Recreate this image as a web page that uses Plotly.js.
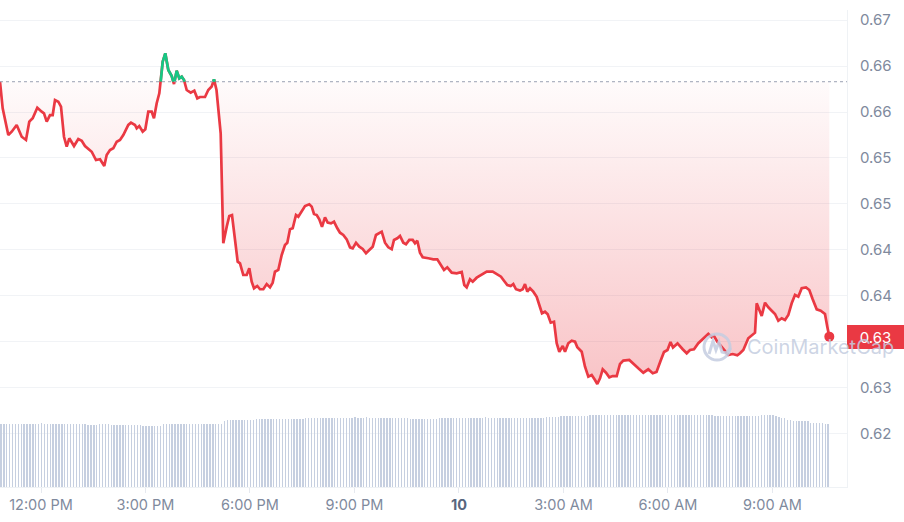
<!DOCTYPE html>
<html><head><meta charset="utf-8">
<script src="https://cdn.plot.ly/plotly-3.0.1.min.js"></script>
<style>html,body{margin:0;padding:0;background:#fff}#chart{width:904px;height:522px}</style>
</head><body><div id="chart"></div>
<script>
// time in hours since midnight of day 9 (24 = midnight, day "10")
const hours = [10.823,10.900,11.061,11.159,11.302,11.446,11.569,11.664,11.762,11.894,
12.020,12.086,12.164,12.258,12.336,12.402,12.497,12.574,12.660,12.738,
12.813,12.948,13.071,13.169,13.263,13.456,13.579,13.694,13.817,13.886,
13.981,14.076,14.174,14.268,14.363,14.507,14.584,14.699,14.748,14.822,
14.920,14.995,15.081,15.178,15.244,15.322,15.397,15.437,15.494,15.569,
15.655,15.753,15.819,15.896,15.971,16.040,16.106,16.183,16.298,16.402,
16.488,16.565,16.709,16.803,16.901,16.967,17.039,17.159,17.234,17.332,
17.406,17.484,17.570,17.647,17.714,17.808,17.906,17.981,18.049,18.116,
18.210,18.288,18.383,18.480,18.575,18.652,18.718,18.813,18.911,19.005,
19.072,19.149,19.227,19.321,19.387,19.485,19.580,19.703,19.772,19.838,
19.916,19.990,20.068,20.154,20.231,20.326,20.412,20.507,20.585,20.679,
20.777,20.872,20.949,21.044,21.139,21.236,21.331,21.426,21.524,21.618,
21.713,21.782,21.877,21.971,22.069,22.135,22.230,22.307,22.402,22.480,
22.574,22.672,22.738,22.804,22.881,22.959,23.120,23.263,23.378,23.456,
23.571,23.665,23.792,23.935,24.079,24.153,24.222,24.317,24.395,24.509,
24.653,24.797,24.969,25.084,25.207,25.293,25.388,25.486,25.560,25.638,
25.753,25.830,25.896,25.962,26.040,26.134,26.232,26.307,26.384,26.470,
26.548,26.634,26.729,26.806,26.881,26.979,27.045,27.139,27.237,27.332,
27.398,27.524,27.619,27.714,27.811,27.906,27.972,28.050,28.127,28.222,
28.317,28.414,28.529,28.624,28.719,28.891,29.006,29.149,29.293,29.436,
29.563,29.672,29.787,29.887,29.987,30.074,30.145,30.275,30.424,30.539,
30.633,30.748,30.872,31.015,31.159,31.256,31.323,31.417,31.495,31.610,
31.733,31.860,31.992,32.069,32.164,32.307,32.434,32.500,32.548,32.623,
32.692,32.787,32.882,32.979,33.074,33.169,33.266,33.361,33.456,33.553,
33.648,33.743,33.840,33.964,34.059,34.156,34.271,34.386,34.509,34.575,
34.633];
const prices = [0.66329,0.66040,0.65750,0.65786,0.65859,0.65731,0.65696,0.65895,0.65932,0.66047,
0.66003,0.65986,0.65895,0.65967,0.65967,0.66130,0.66112,0.66058,0.65731,0.65623,
0.65714,0.65630,0.65707,0.65688,0.65630,0.65568,0.65478,0.65486,0.65413,0.65533,
0.65587,0.65605,0.65677,0.65696,0.65750,0.65859,0.65884,0.65859,0.65823,0.65848,
0.65786,0.65812,0.66003,0.66003,0.65932,0.66095,0.66203,0.66329,0.66547,0.66638,
0.66457,0.66391,0.66304,0.66449,0.66366,0.66384,0.66348,0.66239,0.66210,0.66232,
0.66149,0.66163,0.66163,0.66239,0.66277,0.66355,0.66239,0.65768,0.64573,0.64753,
0.64870,0.64880,0.64609,0.64373,0.64355,0.64228,0.64228,0.64301,0.64155,0.64084,
0.64109,0.64073,0.64073,0.64130,0.64094,0.64145,0.64264,0.64283,0.64446,0.64554,
0.64579,0.64725,0.64736,0.64880,0.64862,0.64916,0.64978,0.64997,0.64971,0.64891,
0.64880,0.64834,0.64753,0.64855,0.64797,0.64790,0.64808,0.64736,0.64688,0.64663,
0.64616,0.64529,0.64518,0.64579,0.64536,0.64511,0.64464,0.64500,0.64536,0.64663,
0.64681,0.64699,0.64579,0.64529,0.64508,0.64609,0.64627,0.64652,0.64579,0.64562,
0.64609,0.64609,0.64573,0.64601,0.64471,0.64421,0.64410,0.64399,0.64399,0.64355,
0.64283,0.64312,0.64253,0.64247,0.64261,0.64119,0.64094,0.64181,0.64155,0.64199,
0.64236,0.64264,0.64264,0.64239,0.64210,0.64166,0.64119,0.64109,0.64130,0.64073,
0.64058,0.64073,0.64130,0.64047,0.64084,0.64047,0.63992,0.63902,0.63812,0.63829,
0.63801,0.63710,0.63721,0.63486,0.63394,0.63456,0.63394,0.63486,0.63514,0.63503,
0.63442,0.63394,0.63231,0.63123,0.63141,0.63087,0.63043,0.63105,0.63203,0.63166,
0.63116,0.63130,0.63130,0.63261,0.63297,0.63304,0.63261,0.63214,0.63166,0.63203,
0.63160,0.63174,0.63293,0.63391,0.63413,0.63500,0.63440,0.63484,0.63421,0.63377,
0.63413,0.63421,0.63486,0.63540,0.63587,0.63551,0.63565,0.63503,0.63467,0.63413,
0.63359,0.63369,0.63355,0.63377,0.63413,0.63540,0.63587,0.63601,0.63921,0.63855,
0.63783,0.63927,0.63877,0.63840,0.63804,0.63731,0.63758,0.63739,0.63793,0.63921,
0.64011,0.63992,0.64084,0.64094,0.64065,0.63964,0.63855,0.63840,0.63804,0.63666,
0.63558];
// 5-minute volume bars (millions, relative)
const volStartHour = 10.85;
const volStepHour = 5 / 60;
const volumes = [
31.7,31.7,31.7,31.7,31.7,31.7,31.7,31.7,31.7,31.7,
31.7,31.7,31.7,31.7,32.2,31.7,31.7,31.7,31.7,31.7,
31.7,31.7,31.7,31.7,31.7,31.7,31.7,31.7,31.7,31.7,
31.0,31.0,31.0,31.0,31.7,31.7,31.7,31.7,31.0,31.0,
31.0,31.0,31.0,31.0,31.0,31.0,31.0,31.0,31.0,30.7,
30.7,30.7,30.7,30.7,30.7,30.7,31.3,31.3,31.7,31.7,
31.7,31.7,31.7,31.7,31.7,31.7,31.7,31.7,31.7,31.7,
31.7,31.7,31.7,31.7,31.7,31.7,31.7,33.0,33.5,33.5,
33.5,33.5,33.5,33.5,33.5,33.5,33.5,33.5,34.0,34.0,
34.0,34.0,34.0,34.0,34.0,34.0,34.0,34.0,34.0,34.0,
34.0,34.0,34.0,34.0,34.0,34.5,34.5,34.5,34.5,34.5,
34.5,34.5,34.5,34.5,34.5,34.5,34.5,34.5,34.5,34.5,
34.5,34.5,35.0,34.5,34.5,34.5,35.0,34.5,34.5,34.5,
34.5,34.5,34.5,34.5,34.5,34.5,34.5,34.5,34.5,34.5,
34.5,34.0,34.0,34.0,34.0,34.0,34.0,34.0,34.0,34.0,
34.0,34.5,34.5,34.5,34.5,34.5,34.5,34.5,34.5,34.5,
34.5,34.5,34.5,34.5,34.5,34.5,34.5,35.0,34.5,34.5,
34.5,34.5,34.5,34.5,34.5,34.5,34.5,34.5,34.5,34.5,
34.5,34.5,34.5,34.5,34.5,34.5,34.5,34.5,35.0,35.0,
35.0,35.0,35.0,35.5,35.5,35.5,35.5,35.5,35.5,35.5,
35.5,35.5,35.5,36.0,36.0,36.0,36.0,36.0,36.0,36.0,
36.0,36.0,36.0,36.0,36.0,36.0,36.0,36.0,36.0,36.0,
36.0,36.0,36.0,36.0,36.0,36.0,36.0,36.0,36.0,36.0,
36.0,36.0,36.0,36.0,36.0,36.0,36.0,36.0,36.0,36.0,
36.0,36.0,36.0,36.0,36.0,36.0,35.5,35.5,35.5,35.5,
35.5,35.5,35.5,35.5,35.5,35.5,35.5,35.5,35.5,35.5,
35.5,35.5,36.0,36.0,36.0,36.0,36.0,35.5,35.0,34.3,
34.3,33.3,33.3,32.8,32.8,32.8,32.8,32.8,32.8,32.2,
32.2,32.2,32.2,32.2,31.7,31.7];
const yTickVals = [0.625,0.63,0.635,0.64,0.645,0.65,0.655,0.66,0.665,0.67];
// the 0.635 label sits under the current-price box in the reference
const yTickText = ['0.62','0.63','','0.64','0.64','0.65','0.65','0.66','0.66','0.67'];
const xTickVals = [12,15,18,21,24,27,30,33];
const xTickText = ['12:00 PM','3:00 PM','6:00 PM','9:00 PM','<b><span style="color:#58667e">10</span></b>','3:00 AM','6:00 AM','9:00 AM'];
const currentLabel = '0.63';
const watermark = 'CoinMarketCap';

const RED = '#ea3943', GREEN = '#16c784', GRAY = '#808a9d';
const base = prices[0];

// clip the line at the opening price: fill below + green above
const fx = [], fy = [], ax = [], ay = [];
for (let i = 0; i < hours.length; i++) {
  if (i > 0) {
    const y0 = prices[i-1], y1 = prices[i];
    if ((y0 - base) * (y1 - base) < 0) {
      const t = (base - y0) / (y1 - y0);
      const xc = hours[i-1] + t * (hours[i] - hours[i-1]);
      fx.push(xc); fy.push(base);
      ax.push(xc); ay.push(base);
    }
  }
  fx.push(hours[i]); fy.push(Math.min(prices[i], base));
  if (prices[i] >= base) { ax.push(hours[i]); ay.push(prices[i]); }
  else if (ay.length && ay[ay.length-1] !== null) { ax.push(null); ay.push(null); }
}
const volX = volumes.map((v, i) => volStartHour + i * volStepHour);
const last = prices.length - 1;

const traces = [
  {type:'bar', x: volX, y: volumes, yaxis:'y2', width: 0.04,
   marker:{color:'#c6cfe0', line:{width:0}}, hoverinfo:'skip'},
  {type:'scatter', mode:'lines', x:[hours[0], hours[last]], y:[base, base],
   line:{width:0, color:'rgba(0,0,0,0)'}, hoverinfo:'skip'},
  {type:'scatter', mode:'lines', x: fx, y: fy, fill:'tonexty',
   line:{width:0, color:'rgba(0,0,0,0)'},
   fillgradient:{type:'vertical', colorscale:[[0,'rgba(234,57,67,0.30)'],[1,'rgba(234,57,67,0.02)']]},
   hoverinfo:'skip'},
  {type:'scatter', mode:'lines', x: hours, y: prices, line:{color: RED, width:2.7}},
  {type:'scatter', mode:'lines', x: ax, y: ay, connectgaps:false, line:{color: GREEN, width:2.7}},
  {type:'scatter', mode:'markers', x:[hours[last]], y:[prices[last]], marker:{color: RED, size:10}}
];

const layout = {
  width: 904, height: 522,
  margin: {l:0, r:57, t:10, b:35, pad:0},
  paper_bgcolor:'#fff', plot_bgcolor:'#fff',
  showlegend:false, hovermode:false,
  font:{family:'Inter, "Open Sans", sans-serif', size:15, color: GRAY},
  bargap: 0,
  xaxis:{range:[10.823, 35.141], tickvals:xTickVals, ticktext:xTickText,
    showgrid:false, zeroline:false, showline:true, linecolor:'#eff2f5', linewidth:1,
    ticks:'outside', ticklen:5, tickcolor:'#e6e9ef', tickfont:{size:14.5, color:GRAY}},
  yaxis:{range:[0.619237, 0.671087], side:'right', tickvals:yTickVals, ticktext:yTickText,
    showgrid:true, gridcolor:'#f1f3f6', gridwidth:1, zeroline:false,
    showline:true, linecolor:'#eff2f5', linewidth:1,
    ticks:'outside', ticklen:9, tickcolor:'rgba(0,0,0,0)', tickfont:{size:15, color:GRAY}},
  yaxis2:{overlaying:'y', range:[0, 238.5], visible:false, fixedrange:true},
  shapes:[
    {type:'line', xref:'paper', x0:0, x1:1, yref:'y', y0:base, y1:base,
     line:{color:'#9aa1b2', width:1, dash:'dot'}, layer:'above'},
    {type:'circle', xref:'paper', yref:'paper', x0:0.8312, x1:0.8619, y0:0.2662, y1:0.3208,
     line:{color:'rgba(196,205,224,0.85)', width:3}},
    {type:'path', xref:'paper', yref:'paper',
     path:'M0.8371,0.2788 L0.8418,0.3061 L0.8453,0.2872 L0.8489,0.3040 L0.8524,0.2830 L0.8571,0.2809 L0.8630,0.2914',
     line:{color:'rgba(196,205,224,0.85)', width:3}}
  ],
  annotations:[
    {xref:'paper', x:1, xanchor:'left', yref:'y', y:prices[last], yanchor:'middle',
     text: currentLabel, showarrow:false, bgcolor: RED, borderwidth:0, borderpad:3,
     width:51, height:18, align:'center', font:{color:'#fff', size:15}},
    {xref:'paper', x:0.8796, xanchor:'left', yref:'paper', y:0.2935, yanchor:'middle',
     text: watermark, showarrow:false, font:{family:'Inter, sans-serif', size:20, color:'rgba(196,205,224,0.85)'}}
  ]
};

Plotly.newPlot('chart', traces, layout, {staticPlot:true, displayModeBar:false});
</script>
</body></html>
